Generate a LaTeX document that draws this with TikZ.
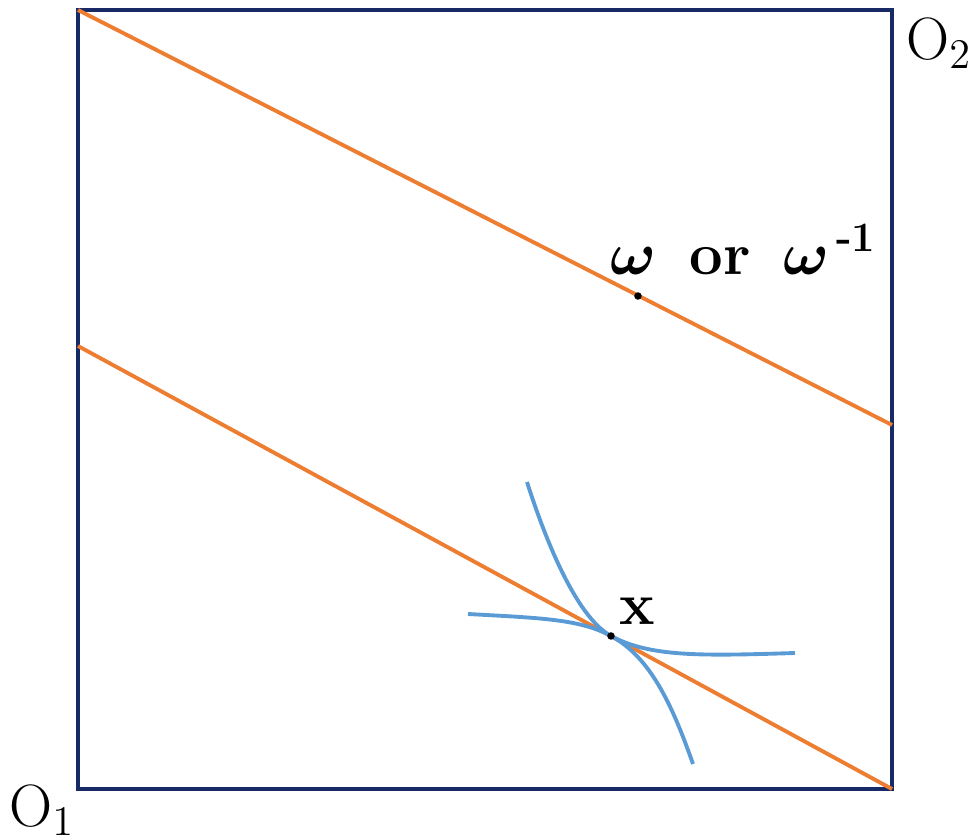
\documentclass[tikz,border=0pt]{standalone}
\usepackage{amsmath}
\usepackage{amssymb}
\usepackage{bm}
\usepackage{xcolor}
\definecolor{boxblue}{RGB}{24, 42, 102}
\definecolor{budget}{RGB}{237, 125, 49}
\definecolor{indiff}{RGB}{91, 155, 213}
\usetikzlibrary{positioning, calc}

\begin{document}
\begin{tikzpicture}[
  every node/.style = {inner sep=0pt},
  % line styles
  frame/.style  = {draw=boxblue, line width=1.1pt},
  bline/.style  = {draw=budget, line width=1.1pt},
  icurve/.style = {draw=indiff, line width=1.1pt},
  % label styles
  origin/.style = {font=\fontsize{17}{20}\selectfont},
  dotlab/.style = {font=\fontsize{17}{20}\selectfont\bfseries},
  pt/.style     = {circle, fill=black, minimum size=0.075cm},
]
\useasboundingbox (0,0) rectangle (9.8,8.39);

%% Edgeworth box corners
\coordinate (sw) at (0.78,0.50);
\coordinate (ne) at (8.92,8.29);
\draw[frame] (sw) rectangle (ne);

%% Origins
\node[origin] (o1) at (0.42,0.29) {O$_1$};
\node[origin] (o2) at (9.39,7.96) {O$_2$};

%% Budget lines
\coordinate (ua) at (0.78,8.29);
\coordinate (ub) at (8.92,4.14);
\coordinate (la) at (0.78,4.93);
\coordinate (lb) at (8.92,0.50);
\draw[bline] (ua) -- (ub);
\draw[bline] (la) -- (lb);

%% Indifference curves tangent at x
\coordinate (x) at (6.11,2.03);
\draw[icurve] (5.27,3.57) .. controls (5.50,2.85) and (5.80,2.20) .. (x)
              .. controls (6.50,1.82) and (7.00,1.83) .. (7.95,1.86);
\draw[icurve] (4.68,2.25) .. controls (5.40,2.21) and (5.80,2.20) .. (x)
              .. controls (6.50,1.82) and (6.72,1.35) .. (6.93,0.75);

%% Points and labels
\node[pt] (xdot) at (x) {};
\node[dotlab, anchor=base west] (xlab) at (6.19,2.15) {x};
\node[pt] (wdot) at (6.38,5.43) {};
\node[dotlab, anchor=base west] (wlab) at (6.10,5.65)
  {$\bm{\omega}$\hspace{0.55em}or\hspace{0.55em}$\bm{\omega}^{\,\textbf{-1}}$};

\end{tikzpicture}
\end{document}
